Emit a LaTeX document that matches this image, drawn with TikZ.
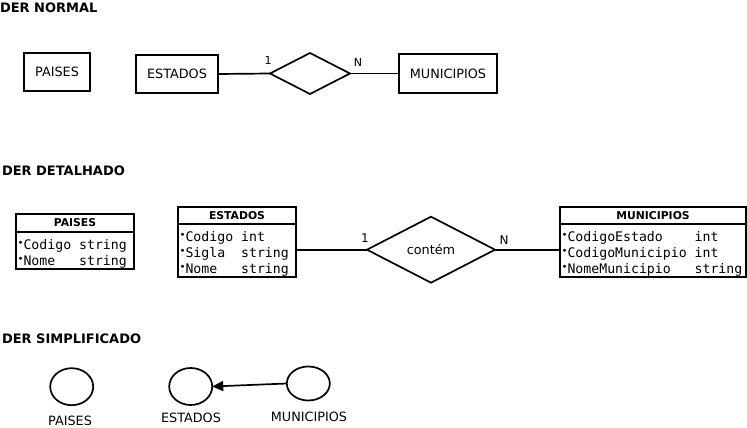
\documentclass[tikz,border=0pt]{standalone}
\usepackage{fontspec}
\setmainfont{DejaVu Sans}
\setmonofont{DejaVu Sans Mono}
\usetikzlibrary{shapes.geometric,arrows.meta}
\setlength{\parindent}{0pt}
\newcommand{\bul}{\raisebox{2.5pt}{\fontsize{10}{10}\selectfont\textbullet}}
\newcommand{\campo}[3]{\bul\makebox[\dimexpr 0.602em*#1\relax][l]{#2}#3}
\newcommand{\lbl}{\fontsize{12.8}{15}\selectfont}

\begin{document}
\begin{tikzpicture}[x=1pt, y=-1pt,
  every node/.style={font=\lbl, inner sep=0pt, outer sep=0pt},
  linha/.style={line width=1.7pt},
  titulo/.style={font=\bfseries\fontsize{13}{15}\selectfont, anchor=west},
  entidade/.style={draw, line width=1.7pt, minimum height=38pt},
  relacao/.style={draw, diamond, line width=1.7pt},
  card/.style={font=\fontsize{11}{13}\selectfont},
  cabec/.style={draw, line width=1.7pt, anchor=north west, minimum height=17pt,
                font=\bfseries\fontsize{10.8}{13}\selectfont},
  campos/.style={draw, line width=1.7pt, anchor=north, align=left, inner xsep=1.5pt,
                 inner ysep=1pt, font=\ttfamily\fontsize{13.2}{16}\selectfont},
  bolha/.style={draw, ellipse, line width=1.7pt, minimum width=43pt, minimum height=37pt}
]
\useasboundingbox (0,0) rectangle (747,428);

\node[titulo] (tnormal) at (0,8) {DER NORMAL};
\node[entidade, minimum width=66pt] (npaises) at (57,72) {PAISES};
\node[entidade, minimum width=82pt] (nestados) at (177,74) {ESTADOS};
\node[relacao, minimum width=80pt, minimum height=41pt] (ncontem) at (310,73.5) {};
\node[entidade, minimum width=98pt, minimum height=39pt] (nmunicipios) at (448,73.5) {MUNICIPIOS};
\node[card] (nc1) at (268,60) {1};
\node[card] (ncn) at (358,62) {N};
\draw[linha] (nestados.east) -- (ncontem.west);
\draw[linha] (ncontem.east) -- (nmunicipios.west);

\node[titulo] (tdetalhado) at (2,171) {DER DETALHADO};
\node[cabec, minimum width=118pt, minimum height=18pt] (hpaises) at (16,214) {PAISES};
\node[campos, text width=115pt] (dpaises) at (hpaises.south) {%
  \rule{0pt}{16pt}\campo{7}{Codigo}{string}\\
  \campo{7}{Nome}{string}};
\node[cabec, minimum width=118pt] (hestados) at (178,207) {ESTADOS};
\node[campos, text width=115pt] (destados) at (hestados.south) {%
  \rule{0pt}{16pt}\campo{7}{Codigo}{int}\\
  \campo{7}{Sigla}{string}\\
  \campo{7}{Nome}{string}};
\node[relacao, minimum width=128pt, minimum height=66pt] (dcontem) at (431,249.7) {contém};
\node[cabec, minimum width=186pt] (hmunicipios) at (560,207) {MUNICIPIOS};
\node[campos, text width=183pt] (dmunicipios) at (hmunicipios.south) {%
  \rule{0pt}{16pt}\campo{16}{CodigoEstado}{int}\\
  \campo{16}{CodigoMunicipio}{int}\\
  \campo{16}{NomeMunicipio}{string}};
\node[card, font=\fontsize{12}{14}\selectfont] (dc1) at (365,238) {1};
\node[card, font=\fontsize{12}{14}\selectfont] (dcn) at (504,240) {N};
\draw[linha] (destados.east |- dcontem.west) -- (dcontem.west);
\draw[linha] (dcontem.east) -- (dmunicipios.west |- dcontem.east);

\node[titulo] (tsimples) at (2,339) {DER SIMPLIFICADO};
\node[bolha] (spaises) at (71.7,386.7) {};
\node[bolha] (sestados) at (190.7,386.5) {};
\node[bolha, minimum height=34pt] (smunicipios) at (308.3,383.5) {};
\node (lpaises) at (70,421) {PAISES};
\node (lestados) at (191,418) {ESTADOS};
\node (lmunicipios) at (309,417) {MUNICIPIOS};
\draw[linha, -{Triangle[length=11pt,width=10pt]}] (smunicipios.west) -- (sestados.east);
\end{tikzpicture}
\end{document}
